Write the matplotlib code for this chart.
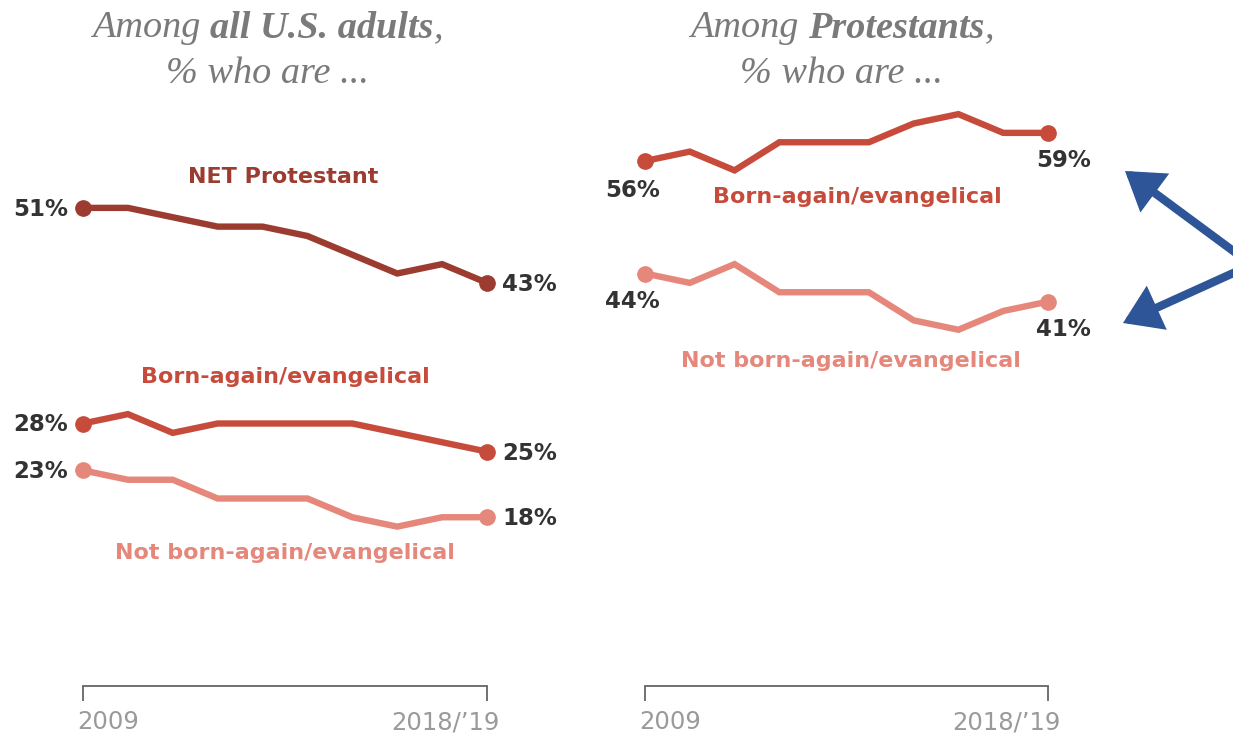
import matplotlib
matplotlib.use("Agg")
import matplotlib.pyplot as plt
from matplotlib.patches import FancyArrowPatch

# data (10 survey waves, 2009 .. 2018/'19)
x = list(range(10))
tick_labels = ["2009", "2018/\u201919"]

all_net = [51, 51, 50, 49, 49, 48, 46, 44, 45, 43]
all_born = [28, 29, 27, 28, 28, 28, 28, 27, 26, 25]
all_not = [23, 22, 22, 20, 20, 20, 18, 17, 18, 18]

prot_born = [56, 57, 55, 58, 58, 58, 60, 61, 59, 59]
prot_not = [44, 43, 45, 42, 42, 42, 39, 38, 40, 41]

C_NET = "#9C3B30"
C_BORN = "#C74B3B"
C_NOT = "#E5877B"
C_TXT = "#333333"
C_HEAD = "#7a7a7a"
C_ARROW = "#2E5597"

SANS = ["DejaVu Sans"]
SERIF = ["Liberation Serif", "DejaVu Serif"]

W, H = 1233, 743
fig = plt.figure(figsize=(W / 100, H / 100), dpi=100)

# y scale: 0% at 686 px from top, 9.375 px per point
y_top = 65
bot = (H - 686) / H
hgt = y_top * 9.375 / H
ax1 = fig.add_axes([83 / W, bot, 404 / W, hgt])
ax2 = fig.add_axes([645 / W, bot, 403 / W, hgt])


def style(ax):
    ax.set_xlim(0, 9)
    ax.set_ylim(0, y_top)
    for s in ["top", "left", "right"]:
        ax.spines[s].set_visible(False)
    ax.spines["bottom"].set_color("#666666")
    ax.spines["bottom"].set_linewidth(1.3)
    ax.set_yticks([])
    ax.set_xticks([0, 9])
    ax.set_xticklabels([])
    ax.tick_params(axis="x", direction="out", length=11, width=1.3,
                   color="#666666")
    ax.patch.set_alpha(0)
    # year labels sit a little inward of their ticks, like the original
    for xi, lbl, dx in [(0, tick_labels[0], 18), (9, tick_labels[1], -30)]:
        ax.annotate(lbl, (xi, 0), xytext=(dx, -26), textcoords="offset points",
                    ha="center", va="center", fontsize=17.5, color="#9a9a9a",
                    family=SANS, annotation_clip=False)


def series(ax, ys, color):
    ax.plot(x, ys, color=color, lw=4.6, solid_joinstyle="miter",
            solid_capstyle="butt", clip_on=False, zorder=2)
    ax.plot([x[0], x[-1]], [ys[0], ys[-1]], "o", color=color, ms=11,
            clip_on=False, zorder=3)


def val(ax, xi, yi, dx, dy, ha="center"):
    ax.annotate(f"{yi}%", (xi, yi), xytext=(dx, dy), textcoords="offset points",
                ha=ha, va="center", fontsize=16.5, fontweight="bold",
                color=C_TXT, family=SANS, annotation_clip=False)


def name(ax, text, xd, yd, color):
    ax.text(xd, yd, text, ha="center", va="center", fontsize=16,
            fontweight="bold", color=color, family=SANS)


style(ax1)
style(ax2)

# left panel: all U.S. adults
series(ax1, all_net, C_NET)
series(ax1, all_born, C_BORN)
series(ax1, all_not, C_NOT)
for ys in (all_net, all_born, all_not):
    val(ax1, x[0], ys[0], -11, -1, ha="right")
    val(ax1, x[-1], ys[-1], 11, -1, ha="left")
name(ax1, "NET Protestant", 4.47, 54.3, C_NET)
name(ax1, "Born-again/evangelical", 4.5, 33.0, C_BORN)
name(ax1, "Not born-again/evangelical", 4.5, 14.2, C_NOT)

# right panel: Protestants
series(ax2, prot_born, C_BORN)
series(ax2, prot_not, C_NOT)
val(ax2, x[0], prot_born[0], -9, -21)
val(ax2, x[-1], prot_born[-1], 11, -20)
val(ax2, x[0], prot_not[0], -9, -20)
val(ax2, x[-1], prot_not[-1], 11, -20)
name(ax2, "Born-again/evangelical", 4.75, 52.2, C_BORN)
name(ax2, "Not born-again/evangelical", 4.6, 34.7, C_NOT)


# panel headings: italic serif with a bold-italic middle part
def heading(cx, parts, y_px):
    renderer = fig.canvas.get_renderer()
    texts = []
    for s, w in parts:
        t = fig.text(0, 1 - y_px / H, s, ha="left", va="center", fontsize=27.5,
                     style="italic", fontweight=w, color=C_HEAD, family=SERIF)
        texts.append(t)
    widths = [t.get_window_extent(renderer).width for t in texts]
    left = cx - sum(widths) / 2
    for t, wd in zip(texts, widths):
        t.set_x(left / W)
        left += wd


heading(268, [("Among ", "normal"), ("all U.S. adults", "bold"), (",", "normal")], 28)
heading(268, [("% who are ...", "normal")], 74)
heading(842, [("Among ", "normal"), ("Protestants", "bold"), (",", "normal")], 28)
heading(842, [("% who are ...", "normal")], 74)

# blue call-out arrows on the right edge
for tail, head in [((1240, H - 256), (1125, H - 171)),
                   ((1240, H - 270), (1123, H - 323))]:
    fig.add_artist(FancyArrowPatch(
        tail, head, transform=None,
        arrowstyle="-|>,head_length=1.3,head_width=0.85",
        mutation_scale=14, lw=6, color=C_ARROW, shrinkA=0, shrinkB=0,
        joinstyle="miter"))

fig.savefig("out.png", dpi=100)
